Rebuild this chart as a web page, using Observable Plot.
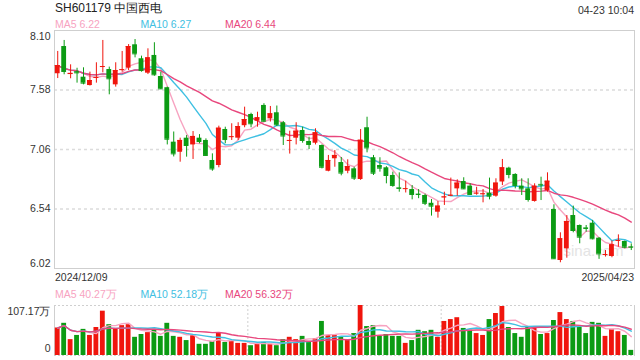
<!DOCTYPE html>
<html><head><meta charset="utf-8">
<script src="https://cdn.jsdelivr.net/npm/d3@7"></script>
<script src="https://cdn.jsdelivr.net/npm/@observablehq/plot@0.6"></script>
<style>
body{margin:0;background:#fff;}
#wrap{position:relative;width:640px;height:360px;overflow:hidden;font-family:"Liberation Sans",Arial,sans-serif;color:#333;}
.t{position:absolute;white-space:nowrap;font-size:10.5px;line-height:1;}
#wrap svg{position:absolute;left:0;}
</style></head><body><div id="wrap"></div>
<script>
const title = "SH601179 中国西电";
const timeLabel = "04-23 10:04";
const dateLabels = ["2024/12/09", "2025/04/23"];

const open  = [7.722,7.960,7.715,7.740,7.692,7.619,7.685,7.780,7.759,7.625,7.754,7.771,7.975,7.853,7.727,7.882,7.698,7.600,7.124,7.036,
               7.159,7.100,7.159,7.139,6.964,6.920,7.235,7.168,7.159,7.268,7.366,7.307,7.445,7.328,7.381,7.294,7.135,7.159,7.226,7.130,
               7.115,7.095,6.870,6.979,6.946,6.870,6.891,6.798,7.250,6.988,6.920,6.900,6.833,6.725,6.715,6.710,6.670,6.658,6.590,6.512,
               6.640,6.655,6.716,6.780,6.740,6.675,6.670,6.678,6.652,6.776,6.897,6.842,6.740,6.716,6.606,6.755,6.700,6.536,6.090,6.192,
               6.483,6.396,6.375,6.416,6.285,6.140,6.125,6.263,6.256,6.210];
const high  = [7.917,8.013,7.800,7.770,7.774,7.736,7.818,8.013,7.780,7.818,7.917,7.977,8.021,7.876,7.940,7.993,7.736,7.605,7.213,7.159,
               7.182,7.217,7.190,7.153,7.022,7.264,7.255,7.285,7.294,7.430,7.377,7.386,7.460,7.436,7.440,7.305,7.220,7.294,7.255,7.167,
               7.241,7.100,7.008,7.051,6.990,6.970,6.905,7.235,7.342,7.008,6.988,6.910,6.862,6.856,6.783,6.745,6.710,6.670,6.623,6.605,
               6.687,6.810,6.795,6.813,6.760,6.730,6.710,6.810,6.804,6.973,6.905,6.848,6.804,6.804,6.760,6.818,6.856,6.577,6.332,6.483,
               6.565,6.400,6.396,6.440,6.290,6.177,6.260,6.314,6.260,6.235];
const low   = [7.680,7.713,7.678,7.640,7.625,7.615,7.640,7.730,7.538,7.605,7.736,7.750,7.861,7.736,7.715,7.700,7.584,7.100,6.995,6.949,
               6.993,6.973,7.110,7.000,6.870,6.900,7.110,7.139,7.139,7.250,7.250,7.255,7.300,7.300,7.260,7.095,7.020,7.100,7.115,7.060,
               7.100,6.890,6.865,6.905,6.830,6.848,6.790,6.790,7.031,6.833,6.862,6.760,6.730,6.687,6.680,6.620,6.630,6.570,6.478,6.460,
               6.571,6.650,6.652,6.710,6.658,6.660,6.594,6.620,6.643,6.745,6.804,6.716,6.658,6.600,6.600,6.614,6.687,6.100,6.070,6.110,
               6.332,6.236,6.337,6.270,6.100,6.120,6.114,6.206,6.192,6.177];
const close = [7.794,7.742,7.725,7.730,7.640,7.663,7.690,7.785,7.678,7.750,7.758,7.960,7.896,7.750,7.861,7.713,7.590,7.150,7.022,7.139,
               7.095,7.174,7.130,7.008,6.890,7.246,7.147,7.172,7.261,7.322,7.285,7.337,7.307,7.372,7.276,7.178,7.139,7.220,7.139,7.104,
               7.206,6.905,6.964,7.008,6.854,6.911,6.810,7.141,7.074,6.853,6.897,6.833,6.746,6.720,6.718,6.667,6.667,6.590,6.565,6.565,
               6.645,6.660,6.766,6.716,6.667,6.678,6.673,6.652,6.766,6.900,6.842,6.746,6.716,6.623,6.739,6.750,6.783,6.105,6.280,6.431,
               6.352,6.294,6.370,6.280,6.148,6.142,6.227,6.265,6.206,6.206];
// volume, 万股
const volume = [59,69,34,43,56,43,60,95,66,56,64,66,39,45,49,54,41,69,41,39,
                32,43,24,24,30,49,28,30,26,26,21,26,28,24,21,34,39,34,41,30,
                36,73,43,43,39,34,47,107.17,62,64,41,45,41,41,26,32,54,51,54,39,
                73,77,81,58,54,47,43,77,90,105,60,47,39,60,60,45,47,75,92,77,
                73,60,47,71,69,41,56,51,43,11];

const priceTicks = [6.02, 6.54, 7.06, 7.58, 8.10];
const volTicks = [0, 107.17];
const maNames = ["MA5", "MA10", "MA20"];
const maPeriods = [5, 10, 20];
const maPriceLabels = ["6.22", "6.27", "6.44"];
const maVolLabels = ["40.27万", "52.18万", "56.32万"];
const maColors = ["#f7a3c1", "#3fc0e2", "#e8477d"];
const upColor = "#f0150d", downColor = "#0b9b13";

const data = close.map((c, i) => ({i, open: open[i], high: high[i], low: low[i], close: c, volume: volume[i], up: c >= open[i]}));
const col = d => d.up ? upColor : downColor;
const font = '"Liberation Sans", Arial, sans-serif';
const xOpts = {type: "band", domain: d3.range(data.length), paddingInner: 0.25, paddingOuter: 0.125, axis: null};
const step = 580 / data.length;

const wrap = document.getElementById("wrap");

const main = Plot.plot({
  width: 640, height: 270, marginTop: 30, marginBottom: 2, marginLeft: 54, marginRight: 6,
  x: xOpts,
  y: {domain: [6.02, 8.10], axis: null},
  color: {type: "identity"},
  style: {fontFamily: font, fontSize: "10.5px", color: "#333", background: "transparent", overflow: "visible"},
  marks: [
    Plot.text(["sina.com"], {frameAnchor: "bottom-right", dx: -11, dy: -13, fill: "#e4e4e4", fontSize: 15, text: d => d}),
    Plot.ruleY(priceTicks.slice(1, -1), {stroke: "#dcdcdc", strokeDasharray: "3,3", strokeWidth: 1.5}),
    Plot.frame({stroke: "#cfcfcf"}),
    ...maPeriods.map((k, j) => Plot.lineY(data, Plot.windowY({k, anchor: "end", strict: false}, {x: "i", y: "close", stroke: maColors[j], strokeWidth: 1.4}))),
    Plot.ruleX(data, {x: "i", y1: "low", y2: "high", stroke: col, strokeWidth: 1}),
    Plot.barY(data, {x: "i", y1: "open", y2: "close", fill: col}),
    Plot.tickY(data, {x: "i", y: "close", stroke: col, strokeWidth: 1}),
    Plot.text(priceTicks.slice(1, -1), {y: d => d, text: d => d.toFixed(2), frameAnchor: "left", textAnchor: "end", dx: -4, fill: "#333"}),
    Plot.text(priceTicks.slice(-1), {y: d => d, text: d => d.toFixed(2), frameAnchor: "left", textAnchor: "end", dx: -4, dy: 6, fill: "#333"}),
    Plot.text(priceTicks.slice(0, 1), {y: d => d, text: d => d.toFixed(2), frameAnchor: "left", textAnchor: "end", dx: -4, dy: -5, fill: "#333"})
  ]
});
main.style.top = "0px";
wrap.appendChild(main);

const vol = Plot.plot({
  width: 640, height: 55, marginTop: 0, marginBottom: 5, marginLeft: 54, marginRight: 6,
  x: xOpts,
  y: {domain: [0, 107.17], axis: null},
  color: {type: "identity"},
  style: {fontFamily: font, fontSize: "10.5px", color: "#333", background: "transparent", overflow: "visible"},
  marks: [
    Plot.ruleY(volTicks, {stroke: "#cfcfcf", strokeDasharray: "2,2"}),
    Plot.ruleX([30, 60], {x: d => d, dx: -step / 2, stroke: "#cfcfcf", strokeDasharray: "2,2"}),
    Plot.frame({anchor: "left", stroke: "#cfcfcf"}),
    Plot.frame({anchor: "right", stroke: "#cfcfcf"}),
    Plot.barY(data, {x: "i", y: "volume", fill: col}),
    ...maPeriods.map((k, j) => Plot.lineY(data, Plot.windowY({k, anchor: "end", strict: false}, {x: "i", y: "volume", stroke: maColors[j], strokeWidth: 1.4}))),
    Plot.text(volTicks.slice(1), {y: d => d, text: d => d.toFixed(2) + "万", frameAnchor: "left", textAnchor: "end", dx: -4, dy: 6, fill: "#333"}),
    Plot.text(volTicks.slice(0, 1), {y: d => d, text: d => String(d), frameAnchor: "left", textAnchor: "end", dx: -4, dy: -7, fill: "#333"})
  ]
});
vol.style.top = "305px";
wrap.appendChild(vol);

function label(text, css) {
  const el = document.createElement("div");
  el.className = "t";
  el.textContent = text;
  Object.assign(el.style, css);
  wrap.appendChild(el);
}
label(title, {left: "55px", top: "2px", fontSize: "12px", color: "#222"});
label(timeLabel, {right: "6px", top: "5px", color: "#333"});
const legendX = [55, 140.5, 225];
maNames.forEach((n, j) => {
  label(n + " " + maPriceLabels[j], {left: legendX[j] + "px", top: "19px", color: maColors[j]});
  label(n + " " + maVolLabels[j], {left: legendX[j] + "px", top: "289px", color: maColors[j]});
});
label(dateLabels[0], {left: "55px", top: "272px", color: "#333"});
label(dateLabels[1], {right: "6px", top: "272px", color: "#333"});
</script></body></html>
